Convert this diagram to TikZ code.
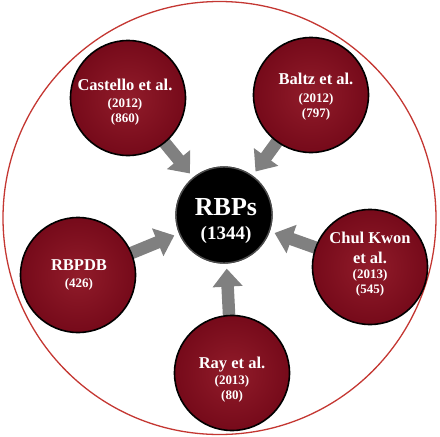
\documentclass[tikz,border=0pt]{standalone}
\usepackage{fontspec}
\setmainfont{Liberation Serif}
\usetikzlibrary{arrows.meta}
\definecolor{wine}{RGB}{118,10,26}
\definecolor{wineedge}{RGB}{145,28,42}
\definecolor{ringred}{RGB}{196,55,50}
\definecolor{arrowgray}{RGB}{128,128,128}
\tikzset{
  srcshape/.style={circle, minimum size=115pt, inner sep=0pt},
  src/.style={srcshape, draw=black, line width=1.6pt, inner color=wineedge, outer color=wine},
  hub/.style={circle, draw=black!70, line width=1.4pt, fill=black, minimum size=96pt, inner sep=0pt},
  lbl/.style={text=white, align=center, inner sep=0pt, font=\fontsize{13}{15}\selectfont\bfseries},
  hublbl/.style={text=white, align=center, inner sep=0pt, font=\fontsize{19}{24}\selectfont\bfseries},
  feed/.style={draw=arrowgray, line width=12.5pt, -{Triangle[width=29pt,length=18pt]}, shorten >=5pt, shorten <=-8pt}
}
\newcommand{\myhead}[1]{{\fontsize{16.5}{16.5}\selectfont #1}}
\begin{document}
\begin{tikzpicture}[x=1pt,y=-1pt]
\useasboundingbox (0,0) rectangle (440,437);
\node[circle, draw=ringred, line width=1.3pt, minimum size=433pt, inner sep=0pt] (ring) at (219.5,218) {};
\coordinate (hubc) at (224,215);
\coordinate (c1) at (128,98);
\coordinate (c2) at (311,95);
\coordinate (c3) at (78,275);
\coordinate (c4) at (370,267);
\coordinate (c5) at (232,373);
% outlines only, to anchor the arrows
\node[hub] (hub) at (hubc) {};
\node[srcshape] (cas) at (c1) {};
\node[srcshape] (bal) at (c2) {};
\node[srcshape] (rbp) at (c3) {};
\node[srcshape] (chul) at (c4) {};
\node[srcshape] (ray) at (c5) {};
\draw[feed] (cas) -- (hub);
\draw[feed] (bal) -- (hub);
\draw[feed] (rbp) -- (hub);
\draw[feed] (chul) -- (hub);
\draw[feed] (ray) -- (hub);
% filled circles on top of the arrow tails
\node[hub] (hubtop) at (hubc) {};
\node[src] (casc) at (c1) {};
\node[src] (balc) at (c2) {};
\node[src] (rbpc) at (c3) {};
\node[src] (chulc) at (c4) {};
\node[src] (rayc) at (c5) {};
\node[hublbl] (hubtxt) at (226,221) {{\fontsize{26}{26}\selectfont RBPs}\\(1344)};
\node[lbl] (castxt) at (125,102) {\myhead{Castello et al.}\\[2.5pt](2012)\\(860)};
\node[lbl] (baltxt) at (316,97) {\myhead{Baltz et al.}\\[3pt](2012)\\(797)};
\node[lbl] (rbptxt) at (79,275) {\myhead{RBPDB}\\[2pt](426)};
\node[lbl] (chultxt) at (370,264) {\myhead{Chul Kwon}\\[5pt]\myhead{et al.}\\[0pt](2013)\\(545)};
\node[lbl] (raytxt) at (232,380) {\myhead{Ray et al.}\\[1pt](2013)\\(80)};
\end{tikzpicture}
\end{document}
